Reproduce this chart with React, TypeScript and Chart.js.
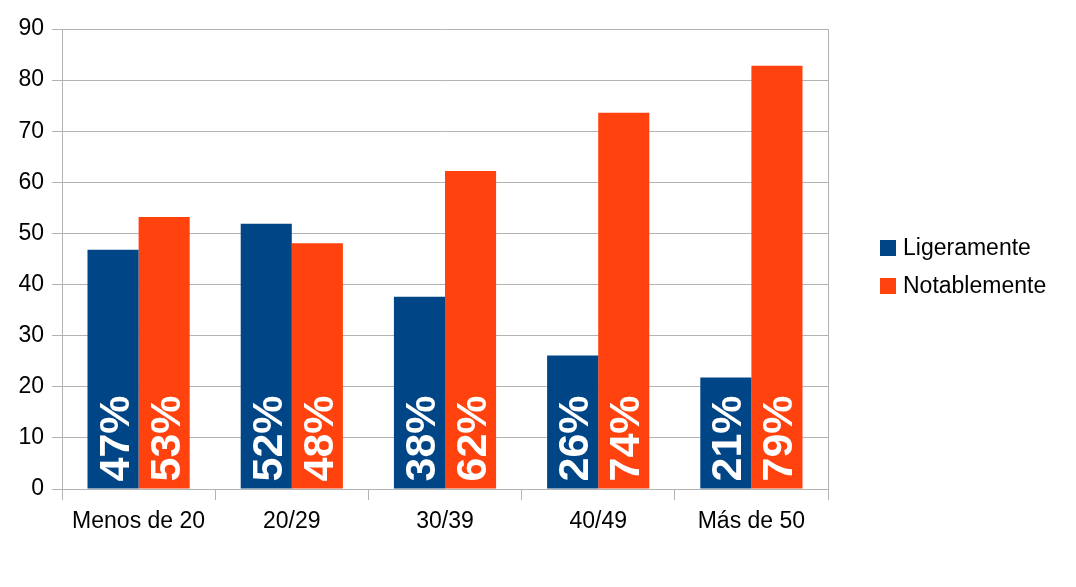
import React, { useEffect, useRef } from "react";
import { Chart, registerables } from "chart.js";

Chart.register(...registerables);

const categories = ["Menos de 20", "20/29", "30/39", "40/49", "Más de 50"];
const ligeramente = [46.8, 51.9, 37.6, 26.1, 21.8];
const notablemente = [53.2, 48.1, 62.2, 73.6, 82.8];
const ligeramenteLabels = ["47%", "52%", "38%", "26%", "21%"];
const notablementeLabels = ["53%", "48%", "62%", "74%", "79%"];
const seriesNames = ["Ligeramente", "Notablemente"];
const seriesColors = ["#004586", "#ff420e"];

const FONT = "'Liberation Sans', Arial, sans-serif";

const overlayPlugin = {
  id: "overlay",
  afterDatasetsDraw(chart: any) {
    const ctx = chart.ctx;
    const area = chart.chartArea;
    const labelSets = [ligeramenteLabels, notablementeLabels];
    ctx.save();
    // value labels
    chart.data.datasets.forEach((ds: any, di: number) => {
      const meta = chart.getDatasetMeta(di);
      meta.data.forEach((bar: any, i: number) => {
        const text = labelSets[di][i];
        ctx.save();
        ctx.translate(bar.x, bar.base - 7);
        ctx.rotate(-Math.PI / 2);
        ctx.font = `bold 43px ${FONT}`;
        ctx.fillStyle = "#ffffff";
        ctx.textAlign = "left";
        ctx.textBaseline = "alphabetic";
        ctx.fillText(text, 0, 15.5);
        ctx.restore();
      });
    });
    // right border of plot
    ctx.strokeStyle = "#b3b3b3";
    ctx.lineWidth = 1;
    ctx.beginPath();
    ctx.moveTo(Math.round(area.right) + 0.5, area.top);
    ctx.lineTo(Math.round(area.right) + 0.5, area.bottom);
    ctx.stroke();
    // legend
    ctx.font = `23px ${FONT}`;
    ctx.textBaseline = "middle";
    ctx.textAlign = "left";
    const legendX = 880;
    const legendYs = [248, 286];
    seriesNames.forEach((name, i) => {
      ctx.fillStyle = seriesColors[i];
      ctx.fillRect(legendX, legendYs[i] - 8, 16, 16);
      ctx.fillStyle = "#000000";
      ctx.fillText(name, legendX + 23, legendYs[i] + 1);
    });
    ctx.restore();
  },
};

export default function App() {
  const ref = useRef<HTMLCanvasElement | null>(null);
  useEffect(() => {
    if (!ref.current) return;
    const chart = new Chart(ref.current, {
      type: "bar",
      data: {
        labels: categories,
        datasets: [
          {
            label: seriesNames[0],
            data: ligeramente,
            backgroundColor: seriesColors[0],
            categoryPercentage: 0.667,
            barPercentage: 1,
          },
          {
            label: seriesNames[1],
            data: notablemente,
            backgroundColor: seriesColors[1],
            categoryPercentage: 0.667,
            barPercentage: 1,
          },
        ],
      },
      options: {
        responsive: false,
        animation: false,
        layout: { padding: { left: 0, top: 29, right: 248, bottom: 0 } },
        plugins: {
          legend: { display: false },
          tooltip: { enabled: false },
        },
        scales: {
          x: {
            grid: {
              offset: true,
              drawOnChartArea: false,
              drawTicks: true,
              tickLength: 11,
              color: "#b3b3b3",
            },
            border: { color: "#b3b3b3" },
            ticks: {
              color: "#000000",
              font: { family: FONT, size: 23 },
              padding: 8,
              maxRotation: 0,
            },
            afterFit: (scale: any) => {
              scale.height = 98;
            },
          },
          y: {
            min: 0,
            max: 90,
            ticks: {
              stepSize: 10,
              color: "#000000",
              font: { family: FONT, size: 23 },
              padding: 8,
            },
            grid: { color: "#b3b3b3", tickLength: 10 },
            border: { color: "#b3b3b3" },
            afterFit: (scale: any) => {
              scale.width = 62;
            },
          },
        },
      },
      plugins: [overlayPlugin],
    });
    return () => chart.destroy();
  }, []);
  return (
    <div style={{ position: "fixed", left: 0, top: 0, width: 1076, height: 587, background: "#fff" }}>
      <canvas ref={ref} width={1076} height={587} style={{ width: 1076, height: 587 }} />
    </div>
  );
}
